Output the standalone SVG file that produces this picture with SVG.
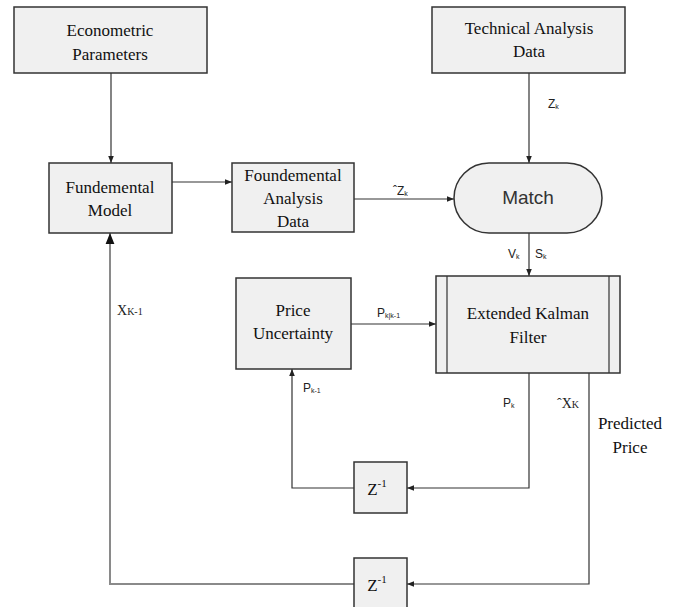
<svg xmlns="http://www.w3.org/2000/svg" width="681" height="607" viewBox="0 0 681 607">
<defs>
<style>
.box{fill:#f0f0f0;stroke:#333;stroke-width:1.5}
.line{fill:none;stroke:#333;stroke-width:1.2}
.gline{fill:none;stroke:#8a8a8a;stroke-width:2}
.t{font-family:'Liberation Serif','DejaVu Serif','Times New Roman',serif;font-size:17px;fill:#111;text-anchor:middle}
.s{font-family:'Liberation Sans',Arial,sans-serif;font-size:12px;fill:#222}
.sub{font-size:7px}
.ser{font-family:'Liberation Serif','DejaVu Serif','Times New Roman',serif;font-size:14px;fill:#222}
</style>
<marker id="ah" viewBox="0 0 10 10" refX="10" refY="5" markerWidth="7" markerHeight="7" markerUnits="userSpaceOnUse" orient="auto"><path d="M0,1 L10,5 L0,9 Z" fill="#222"/></marker>
<marker id="ahg" viewBox="0 0 10 10" refX="10" refY="5" markerWidth="11" markerHeight="11" markerUnits="userSpaceOnUse" orient="auto"><path d="M0,1 L10,5 L0,9 Z" fill="#111"/></marker>
</defs>
<rect width="681" height="607" fill="#fff"/>

<g id="connectors">
<path class="line" d="M111,73 V163" marker-end="url(#ah)"/>
<path class="line" d="M172,182 H232" marker-end="url(#ah)"/>
<path class="line" d="M529,73 V163" marker-end="url(#ah)"/>
<path class="line" d="M354,199 H454" marker-end="url(#ah)"/>
<path class="line" d="M529,233 V276" marker-end="url(#ah)"/>
<path class="line" d="M351,324 H436" marker-end="url(#ah)"/>
<path class="line" d="M529,373 V488 H407" marker-end="url(#ah)"/>
<path class="line" d="M354,488 H292 V369" marker-end="url(#ah)"/>
<path class="line" d="M589,373 V584 H407" marker-end="url(#ah)"/>
<path class="gline" d="M354,584 H110 V233" marker-end="url(#ahg)"/>
<text class="s" x="548" y="108">Z<tspan class="sub" dy="1">k</tspan></text>
<text class="s" x="393" y="195">ˆZ<tspan class="sub" dy="1">k</tspan></text>
<text class="s" x="508" y="258">V<tspan class="sub" dy="1">k</tspan></text>
<text class="s" x="535" y="258">S<tspan class="sub" dy="1">k</tspan></text>
<text class="s" x="377" y="317">P<tspan class="sub" dy="1">k|k-1</tspan></text>
<text class="s" x="303" y="392">P<tspan class="sub" dy="1">k-1</tspan></text>
<text class="s" x="503" y="407">P<tspan class="sub" dy="1">k</tspan></text>
<text class="ser" x="117" y="315">X<tspan font-size="10">K-1</tspan></text>
<text class="ser" x="557" y="408">ˆX<tspan font-size="10">K</tspan></text>
</g>

<g id="econometric">
<rect class="box" x="14" y="7" width="193" height="66"/>
<text class="t" x="110" y="36">Econometric</text>
<text class="t" x="110" y="60">Parameters</text>
</g>

<g id="fundemental-model">
<rect class="box" x="49" y="163" width="123" height="70"/>
<text class="t" x="110" y="193">Fundemental</text>
<text class="t" x="110" y="216">Model</text>
</g>

<g id="foundemental-data">
<rect class="box" x="232" y="163" width="122" height="69"/>
<text class="t" x="293" y="181">Foundemental</text>
<text class="t" x="293" y="204">Analysis</text>
<text class="t" x="293" y="227">Data</text>
</g>

<g id="technical">
<rect class="box" x="432" y="7" width="193" height="66"/>
<text class="t" x="529" y="34">Technical Analysis</text>
<text class="t" x="529" y="57">Data</text>
</g>

<g id="match">
<rect class="box" x="454" y="163" width="148" height="70" rx="35" ry="35"/>
<text x="528" y="204" font-family="Liberation Sans, Arial, sans-serif" font-size="19" fill="#333" text-anchor="middle">Match</text>
</g>

<g id="price-uncertainty">
<rect class="box" x="236" y="278" width="115" height="91"/>
<text class="t" x="293" y="316">Price</text>
<text class="t" x="293" y="339">Uncertainty</text>
</g>

<g id="ekf">
<rect class="box" x="436" y="276" width="184" height="97"/>
<path class="line" d="M447,276 V373 M609,276 V373" stroke-width="1.5"/>
<text class="t" x="528" y="319">Extended Kalman</text>
<text class="t" x="528" y="343">Filter</text>
</g>

<g id="predicted-price">
<text class="t" x="630" y="429">Predicted</text>
<text class="t" x="630" y="453">Price</text>
</g>

<g id="z1-top">
<rect class="box" x="354" y="462" width="53" height="51"/>
<text class="t" x="377" y="495" font-size="18">Z<tspan font-size="11" dy="-8">-1</tspan></text>
</g>

<g id="z1-bottom">
<rect class="box" x="354" y="558" width="53" height="52"/>
<text class="t" x="377" y="591" font-size="18">Z<tspan font-size="11" dy="-8">-1</tspan></text>
</g>
</svg>
